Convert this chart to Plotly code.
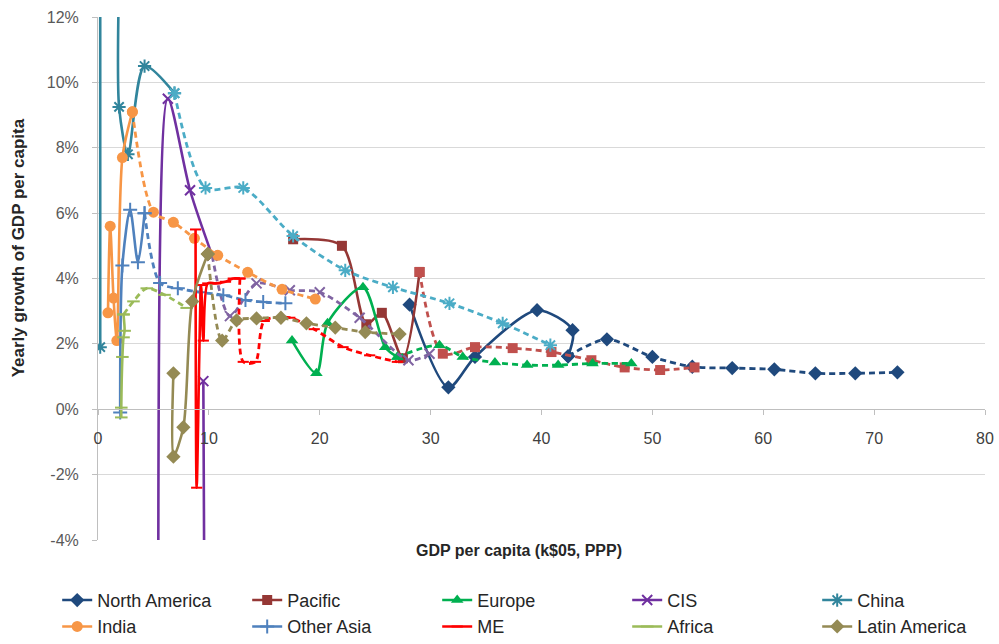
import plotly.graph_objects as go

# ---------------- data (GDP per capita k$05 PPP, yearly growth %) ----------------
na_hist_x = [28.1, 31.6, 34.0, 39.6, 42.8, 42.4]
na_hist_y = [3.2, 0.67, 1.6, 3.03, 2.42, 1.62]
na_proj_x = [42.4, 45.9, 50.0, 53.6, 57.2, 61.0, 64.7, 68.3, 72.1]
na_proj_y = [1.62, 2.14, 1.6, 1.3, 1.26, 1.22, 1.1, 1.1, 1.13]

pac_hist_x = [17.6, 22.0, 24.2, 25.6, 27.5, 29.0]
pac_hist_y = [5.2, 5.0, 2.6, 2.95, 1.56, 4.2]
pac_proj_x = [29.0, 31.1, 34.0, 37.4, 40.9, 44.5, 47.5, 50.7, 53.8]
pac_proj_y = [4.2, 1.7, 1.9, 1.87, 1.75, 1.5, 1.28, 1.2, 1.28]

eur_hist_x = [17.5, 19.7, 20.7, 23.9, 25.9, 27.0]
eur_hist_y = [2.1, 1.1, 2.63, 3.73, 1.9, 1.6]
eur_proj_x = [27.0, 30.8, 32.9, 35.8, 38.7, 41.5, 44.6, 48.1]
eur_proj_y = [1.6, 1.96, 1.6, 1.43, 1.35, 1.35, 1.4, 1.4]

cis_hist_x = [9.5, 9.65, 9.7, 5.4, 5.4, 6.3, 8.3, 10.3]
cis_hist_y = [0.86, -10.0, -25.0, -25.0, -10.0, 9.5, 6.7, 4.7]
cis_proj_x = [10.3, 11.9, 14.3, 17.3, 20.0, 23.6, 28.0, 29.9]
cis_proj_y = [4.7, 2.85, 3.85, 3.64, 3.58, 2.8, 1.5, 1.7]

chn_hist_x = [0.2, 0.2, 0.2, 1.9, 1.9, 1.9, 2.7, 4.2, 6.9]
chn_hist_y = [1.9, 14.0, 30.0, 30.0, 14.0, 9.25, 7.8, 10.5, 9.67]
chn_proj_x = [6.9, 9.7, 13.1, 17.6, 22.3, 26.6, 31.7, 36.5, 40.8]
chn_proj_y = [9.67, 6.77, 6.77, 5.3, 4.25, 3.73, 3.24, 2.63, 1.96]

ind_hist_x = [0.9, 1.1, 1.4, 1.7, 2.2, 3.1]
ind_hist_y = [2.95, 5.6, 3.4, 2.1, 7.7, 9.1]
ind_proj_x = [3.1, 5.0, 6.8, 8.7, 10.8, 13.5, 16.6, 19.6]
ind_proj_y = [9.1, 6.03, 5.72, 5.23, 4.71, 4.19, 3.67, 3.37]

oas_hist_x = [2.0, 2.2, 2.9, 3.6, 4.2]
oas_hist_y = [-0.1, 4.4, 6.1, 4.5, 6.0]
oas_proj_x = [4.2, 5.6, 7.2, 9.2, 11.3, 13.3, 14.9, 16.9]
oas_proj_y = [6.0, 3.86, 3.7, 3.58, 3.49, 3.34, 3.28, 3.24]

me_hist_x = [8.8, 8.9, 9.3, 9.5, 9.9, 10.6, 11.5, 12.2, 12.8]
me_hist_y = [5.5, -2.4, 3.8, 2.1, 3.85, 3.85, 3.9, 4.0, 4.0]
me_proj_x = [12.8, 13.1, 14.2, 15.0, 17.3, 19.5, 22.1, 24.5, 27.0]
me_proj_y = [4.0, 1.45, 1.45, 2.7, 2.8, 2.45, 1.9, 1.65, 1.45]

afr_hist_x = [2.1, 2.1, 2.2, 2.3, 2.4, 2.3]
afr_hist_y = [-0.25, 0.05, 1.6, 2.2, 2.4, 2.9]
afr_proj_x = [2.3, 3.2, 4.4, 6.0, 8.0]
afr_proj_y = [2.9, 3.3, 3.7, 3.5, 3.1]

lat_hist_x = [6.8, 6.8, 7.7, 8.5, 9.9]
lat_hist_y = [1.1, -1.45, -0.55, 3.3, 4.75]
lat_proj_x = [9.9, 11.2, 12.5, 14.3, 16.5, 18.8, 21.4, 24.1, 27.2]
lat_proj_y = [4.75, 2.1, 2.72, 2.78, 2.8, 2.63, 2.5, 2.36, 2.3]

series = [
    ("North America", na_hist_x, na_hist_y, na_proj_x, na_proj_y),
    ("Pacific", pac_hist_x, pac_hist_y, pac_proj_x, pac_proj_y),
    ("Europe", eur_hist_x, eur_hist_y, eur_proj_x, eur_proj_y),
    ("CIS", cis_hist_x, cis_hist_y, cis_proj_x, cis_proj_y),
    ("China", chn_hist_x, chn_hist_y, chn_proj_x, chn_proj_y),
    ("India", ind_hist_x, ind_hist_y, ind_proj_x, ind_proj_y),
    ("Other Asia", oas_hist_x, oas_hist_y, oas_proj_x, oas_proj_y),
    ("ME", me_hist_x, me_hist_y, me_proj_x, me_proj_y),
    ("Africa", afr_hist_x, afr_hist_y, afr_proj_x, afr_proj_y),
    ("Latin America", lat_hist_x, lat_hist_y, lat_proj_x, lat_proj_y),
]

y_ticks = [-4, -2, 0, 2, 4, 6, 8, 10, 12]
x_ticks = [0, 10, 20, 30, 40, 50, 60, 70, 80]

# ---------------- styles ----------------
styles = {
    "North America": dict(c="#1F497D", cp="#1F497D", sym="diamond", size=11),
    "Pacific": dict(c="#953735", cp="#C0504D", sym="square", size=10),
    "Europe": dict(c="#00B050", cp="#00B050", sym="triangle-up", size=11),
    "CIS": dict(c="#7030A0", cp="#8064A2", sym="x-thin-open", size=10),
    "China": dict(c="#31859C", cp="#4BACC6", sym="asterisk-open", size=11),
    "India": dict(c="#F79646", cp="#F79646", sym="circle", size=11),
    "Other Asia": dict(c="#4F81BD", cp="#4F81BD", sym="cross-thin-open", size=10),
    "ME": dict(c="#FF0000", cp="#FF0000", sym="line-ew-open", size=8),
    "Africa": dict(c="#9BBB59", cp="#9BBB59", sym="line-ew-open", size=9),
    "Latin America": dict(c="#948A54", cp="#948A54", sym="diamond", size=11),
}

FONT = "Liberation Sans, Arial, sans-serif"

fig = go.Figure()
for name, hx, hy, px_, py_ in series:
    s = styles[name]
    open_sym = s["sym"].endswith("open")
    mk = dict(symbol=s["sym"], size=s["size"], color=s["c"],
              line=dict(color=s["c"], width=2 if open_sym else 0))
    fig.add_trace(go.Scatter(
        x=hx, y=hy, name=name, legendgroup=name, mode="lines+markers",
        line=dict(color=s["c"], width=2.6, shape="spline", smoothing=0.8),
        marker=mk, cliponaxis=True))
    mkp = dict(symbol=s["sym"], size=s["size"], color=s["cp"],
               line=dict(color=s["cp"], width=2 if open_sym else 0))
    fig.add_trace(go.Scatter(
        x=px_, y=py_, name=name, legendgroup=name, showlegend=False,
        mode="lines+markers",
        line=dict(color=s["cp"], width=2.8, dash="6px,4px", shape="spline", smoothing=0.8),
        marker=mkp, cliponaxis=True))

fig.update_layout(
    width=999, height=644,
    margin=dict(l=98, r=14, t=17, b=104, autoexpand=False),
    paper_bgcolor="white", plot_bgcolor="white",
    font=dict(family=FONT, size=16, color="#404040"),
    showlegend=True,
    legend=dict(orientation="h", x=-0.046, xanchor="left", y=-0.08, yanchor="top",
                entrywidth=145, entrywidthmode="pixels",
                font=dict(family=FONT, size=18, color="#262626"),
                itemwidth=30, tracegroupgap=0, bgcolor="rgba(0,0,0,0)"),
    xaxis=dict(range=[0, 80], tickvals=x_ticks, ticktext=[str(v) for v in x_ticks],
               showgrid=False, zeroline=False, showline=True, linecolor="#BFBFBF", linewidth=1,
               ticks="outside", ticklen=5, tickcolor="#BFBFBF",
               anchor="free", position=0.25, ticklabelstandoff=10,
               tickfont=dict(family=FONT, size=16, color="#404040")),
    yaxis=dict(range=[-4, 12], tickvals=y_ticks, ticktext=[f"{v}%" for v in y_ticks],
               showgrid=True, gridcolor="#D9D9D9", gridwidth=1.2, zeroline=False,
               showline=True, linecolor="#BFBFBF", linewidth=1,
               ticks="outside", ticklen=5, tickcolor="#BFBFBF", ticklabelstandoff=10,
               tickfont=dict(family=FONT, size=16, color="#595959")),
    annotations=[
        dict(text="<b>Yearly growth of GDP per capita</b>", textangle=-90,
             xref="paper", yref="paper", x=-0.09, y=0.558, xanchor="center", yanchor="middle",
             showarrow=False, font=dict(family=FONT, size=17, color="#262626")),
        dict(text="<b>GDP per capita (k$05, PPP)</b>",
             xref="paper", yref="paper", x=0.4746, y=-0.021, xanchor="center", yanchor="middle",
             showarrow=False, font=dict(family=FONT, size=16, color="#262626")),
    ],
)

fig.write_html("out.html", config={"displayModeBar": False},
               post_script="document.body.style.margin='0';")
